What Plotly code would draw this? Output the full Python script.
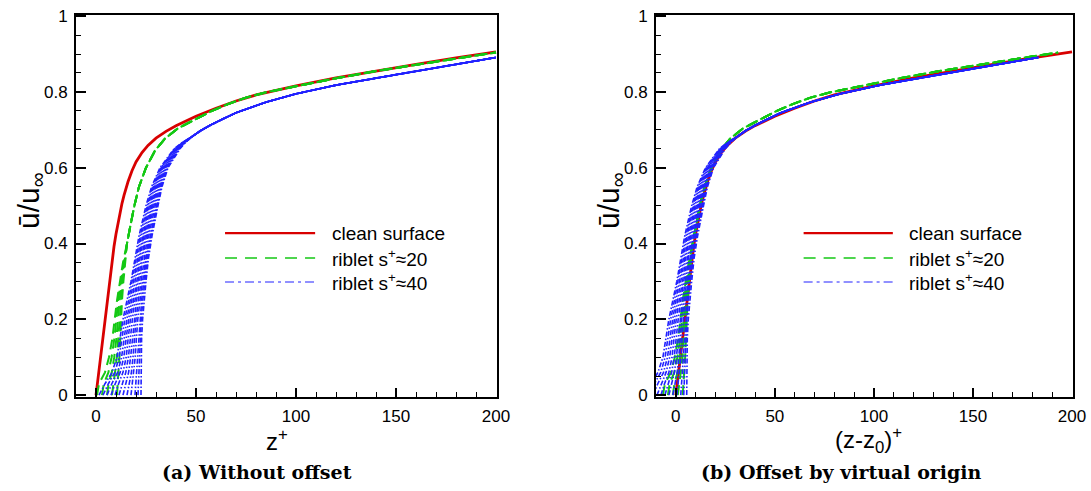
import plotly.graph_objects as go

# ---------------- data ----------------
# clean surface profile: z+ and u/u_inf
CLEAN_Z = [0, 2, 4, 6, 7, 8, 9, 10, 11, 12, 13, 14, 15, 16, 18, 20, 23, 26, 30, 35, 40,
           45, 50, 60, 70, 80, 90, 100, 120, 140, 160, 180, 200]
CLEAN_U = [0, 0.09, 0.18, 0.27, 0.314, 0.355, 0.392, 0.425, 0.455, 0.482, 0.506, 0.527,
           0.546, 0.563, 0.592, 0.615, 0.64, 0.659, 0.678, 0.696, 0.711, 0.724, 0.736,
           0.757, 0.776, 0.792, 0.805, 0.816, 0.837, 0.856, 0.873, 0.89, 0.906]

# riblet s+~20: several spanwise profiles (near-wall part) + common outer part
S20_U_LOW = [0, 0.03, 0.06, 0.1, 0.15, 0.2, 0.25, 0.3, 0.35, 0.4]
S20_Z_LOW = [
    [0.5, 1.5, 4.5, 6.5, 8.2, 9.3, 10.5, 12.0, 13.5, 15.5],
    [3.0, 3.9, 6.2, 7.8, 9.2, 10.1, 11.1, 12.4, 13.8, 15.5],
    [5.5, 6.3, 7.9, 9.1, 10.2, 10.9, 11.8, 12.9, 14.1, 15.5],
    [8.0, 8.6, 9.5, 10.4, 11.1, 11.7, 12.4, 13.3, 14.3, 15.5],
    [10.5, 11.0, 11.2, 11.7, 12.1, 12.5, 13.0, 13.7, 14.6, 15.5],
]
S20_Z_TAIL = [17.3, 19.2, 21.5, 25, 29.5, 34.5, 41, 49.5, 58, 66, 75, 85, 100, 120, 140, 160, 180, 200]
S20_U_TAIL = [0.45, 0.50, 0.55, 0.60, 0.645, 0.677, 0.704, 0.728, 0.750, 0.768, 0.785, 0.799,
              0.815, 0.836, 0.855, 0.872, 0.888, 0.904]

# riblet s+~40: several spanwise profiles (near-wall part) + common outer part
S40_U_LOW = [0, 0.03, 0.06, 0.1, 0.15, 0.2, 0.25, 0.3, 0.36, 0.42, 0.5, 0.55, 0.6, 0.65,
             0.668, 0.682]
S40_Z_LOW = [
    [1.5, 4.5, 8.0, 10.5, 12.0, 13.5, 15.5, 17.5, 19.5, 21.5, 25.0, 27.8, 32.0, 39.0, 43.5, 48],
    [3.5, 6.2, 9.4, 11.6, 13.0, 14.4, 16.3, 18.2, 20.1, 22.1, 25.6, 28.3, 32.4, 39.3, 43.6, 48],
    [5.5, 7.9, 10.8, 12.8, 14.1, 15.4, 17.1, 18.9, 20.8, 22.7, 26.1, 28.8, 32.8, 39.5, 43.8, 48],
    [7.5, 9.6, 12.1, 13.9, 15.1, 16.3, 17.9, 19.6, 21.4, 23.4, 26.7, 29.3, 33.1, 39.8, 43.9, 48],
    [9.5, 11.3, 13.5, 15.1, 16.1, 17.2, 18.7, 20.4, 22.0, 24.0, 27.3, 29.8, 33.5, 40.1, 44.0, 48],
    [11.5, 13.1, 14.9, 16.2, 17.1, 18.2, 19.5, 21.1, 22.7, 24.6, 27.9, 30.3, 33.9, 40.4, 44.2, 48],
    [13.5, 14.8, 16.3, 17.3, 18.2, 19.1, 20.3, 21.8, 23.3, 25.2, 28.4, 30.8, 34.3, 40.6, 44.3, 48],
    [15.5, 16.5, 17.7, 18.5, 19.2, 20.0, 21.2, 22.5, 24.0, 25.8, 29.0, 31.3, 34.7, 40.9, 44.5, 48],
    [17.5, 18.2, 19.0, 19.6, 20.2, 20.9, 22.0, 23.2, 24.6, 26.4, 29.6, 31.8, 35.0, 41.2, 44.6, 48],
    [19.5, 19.9, 20.4, 20.8, 21.3, 21.9, 22.8, 23.9, 25.2, 27.1, 30.1, 32.3, 35.4, 41.5, 44.7, 48],
    [21.0, 21.2, 21.5, 21.7, 22.0, 22.6, 23.4, 24.5, 25.7, 27.5, 30.6, 32.6, 35.7, 41.7, 44.9, 48],
    [22.5, 22.5, 22.5, 22.5, 22.8, 23.3, 24.0, 25.0, 26.2, 28.0, 31.0, 33.0, 36.0, 42.0, 45.0, 48],
]
S40_Z_TAIL = [52, 57, 63, 70, 85, 100, 120, 150, 175, 200]
S40_U_TAIL = [0.697, 0.712, 0.728, 0.745, 0.773, 0.795, 0.818, 0.846, 0.868, 0.891]

# virtual origins z0+ used in panel (b)
Z0 = {"clean": 0.0, "s20": 7.0, "s40": 17.0}

LEGEND_LABELS = ["clean surface", "riblet s<sup>+</sup>≈20", "riblet s<sup>+</sup>≈40"]
CAPTIONS = ["(a) Without offset", "(b) Offset by virtual origin"]
X_TITLES = ["z<sup>+</sup>", "(z-z<sub>0</sub>)<sup>+</sup>"]
Y_TITLE = "ū/u<sub>∞</sub>"
X_TICKS = [0, 50, 100, 150, 200]
Y_TICKS = [0, 0.2, 0.4, 0.6, 0.8, 1.0]
Y_TICKTEXT = ["0", "0.2", "0.4", "0.6", "0.8", "1"]

# ---------------- styles ----------------
RED = "#d80000"
GREEN = "#14c814"
BLUE = "#2222ff"
RED_W, GREEN_W, BLUE_W = 2.8, 2.0, 1.6
GREEN_DASH = "10px,6px"
BLUE_DASH = "5px,2px,1.5px,2px"
FONT = "Arial, Liberation Sans, sans-serif"

fig = go.Figure()

for p, (xa, ya) in enumerate([("x", "y"), ("x2", "y2")]):
    off = p == 1
    fig.add_trace(go.Scatter(
        x=[z - (Z0["clean"] if off else 0) for z in CLEAN_Z], y=CLEAN_U,
        mode="lines", line=dict(color=RED, width=RED_W), xaxis=xa, yaxis=ya,
        showlegend=False, hoverinfo="skip"))
    for zl in S20_Z_LOW:
        zs = zl + S20_Z_TAIL
        us = S20_U_LOW + S20_U_TAIL
        fig.add_trace(go.Scatter(
            x=[z - (Z0["s20"] if off else 0) for z in zs], y=us,
            mode="lines", line=dict(color=GREEN, width=GREEN_W, dash=GREEN_DASH),
            xaxis=xa, yaxis=ya, showlegend=False, hoverinfo="skip"))
    for zl in S40_Z_LOW:
        zs = zl + S40_Z_TAIL
        us = S40_U_LOW + S40_U_TAIL
        fig.add_trace(go.Scatter(
            x=[z - (Z0["s40"] if off else 0) for z in zs], y=us,
            mode="lines", line=dict(color=BLUE, width=BLUE_W, dash=BLUE_DASH),
            xaxis=xa, yaxis=ya, showlegend=False, hoverinfo="skip"))

W, H = 1091, 491
XDOM = [[76 / W, 497 / W], [656 / W, 1073 / W]]
YDOM = [(H - 397) / H, (H - 15) / H]

axis_common = dict(
    showline=True, linecolor="black", linewidth=2, mirror=True,
    ticks="inside", tickcolor="black", tickwidth=2, showgrid=False, zeroline=False,
    tickfont=dict(family=FONT, size=17, color="black"),
)

layout = dict(
    width=W, height=H, margin=dict(l=0, r=0, t=0, b=0, autoexpand=False),
    paper_bgcolor="white", plot_bgcolor="white", showlegend=False,
)
for i, sfx in enumerate(["", "2"]):
    layout["xaxis" + sfx] = dict(
        axis_common, domain=XDOM[i], range=[-10, 200.5], tickvals=X_TICKS, ticklen=9,
        anchor="y" + sfx, ticklabelstandoff=3,
        minor=dict(dtick=10, tick0=0, ticks="inside", ticklen=5, tickcolor="black", tickwidth=1.2))
    layout["yaxis" + sfx] = dict(
        axis_common, domain=YDOM, range=[-0.005, 1.003], tickvals=Y_TICKS, ticktext=Y_TICKTEXT,
        ticklen=10, anchor="x" + sfx, ticklabelstandoff=3,
        minor=dict(dtick=0.05, tick0=0, ticks="inside", ticklen=5, tickcolor="black", tickwidth=1.2))
fig.update_layout(**layout)

shapes = []
annotations = []
leg_y = [0.429, 0.364, 0.301]
leg_styles = [dict(color=RED, width=2.2), dict(color=GREEN, width=1.4, dash="12px,8px"),
              dict(color=BLUE, width=1.2, dash="9px,4px,3px,4px")]
for i, sfx in enumerate(["", "2"]):
    xr, yr = "x%s domain" % sfx, "y%s domain" % sfx
    for k in range(3):
        shapes.append(dict(type="line", xref=xr, yref=yr, x0=0.354, x1=0.568,
                           y0=leg_y[k], y1=leg_y[k], line=leg_styles[k]))
        annotations.append(dict(xref=xr, yref=yr, x=0.603, y=leg_y[k], xanchor="left",
                                yanchor="middle", text=LEGEND_LABELS[k], showarrow=False,
                                font=dict(family=FONT, size=19, color="black")))

xt_x = [277, 869]
yt_x = [31, 611]
cap_x = [257, 841]
for i in range(2):
    annotations.append(dict(xref="paper", yref="paper", x=xt_x[i] / W, y=(H - 440) / H,
                            text=X_TITLES[i], showarrow=False, xanchor="center", yanchor="middle",
                            font=dict(family=FONT, size=24, color="black")))
    annotations.append(dict(xref="paper", yref="paper", x=yt_x[i] / W, y=(H - 201) / H,
                            text=Y_TITLE, showarrow=False, xanchor="center", yanchor="middle",
                            textangle=-90, font=dict(family=FONT, size=30, color="black")))
    annotations.append(dict(xref="paper", yref="paper", x=cap_x[i] / W, y=(H - 472) / H,
                            text="<b>%s</b>" % CAPTIONS[i], showarrow=False, xanchor="center",
                            yanchor="middle",
                            font=dict(family="DejaVu Serif, serif", size=19, color="black")))

fig.update_layout(shapes=shapes, annotations=annotations)
fig.write_html(
    "out.html",
    config={"responsive": False, "displayModeBar": False},
    post_script=("document.documentElement.style.margin='0';document.body.style.margin='0';"
                 "document.documentElement.style.overflow='hidden';"
                 "document.body.style.overflow='hidden';"),
)
